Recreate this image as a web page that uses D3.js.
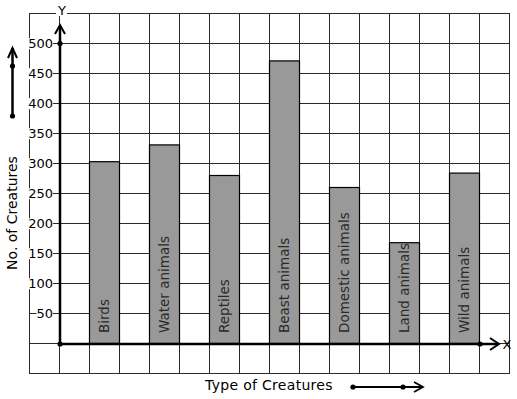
<!DOCTYPE html>
<html>
<head>
<meta charset="utf-8">
<script src="https://cdn.jsdelivr.net/npm/d3@7"></script>
<style>
  body { margin: 0; background: #fff; }
  text { font-family: "DejaVu Sans", sans-serif; }
</style>
</head>
<body>
<div id="chart"></div>
<script>
const categories = ["Birds", "Water animals", "Reptiles", "Beast animals", "Domestic animals", "Land animals", "Wild animals"];
const values = [303, 331, 280, 471, 260, 168, 284];
const yTicks = [50, 100, 150, 200, 250, 300, 350, 400, 450, 500];

function drawChart() {
    const svg = d3.select("#chart")
        .append("svg")
        .attr("width", 517)
        .attr("height", 399);

    // grid: 16 columns x 12 rows of 30px cells
    const gx = d3.scaleLinear().domain([0, 16]).range([29, 509]);
    const y = d3.scaleLinear().domain([-50, 550]).range([373, 13]);
    const x = d3.scaleBand()
        .domain(categories)
        .range([74, 494])
        .paddingInner(0.5)
        .paddingOuter(0.25);

    const grid = svg.append("g")
        .attr("stroke", "#2a2a2a")
        .attr("stroke-width", 1)
        .attr("shape-rendering", "crispEdges");

    grid.selectAll(".v")
        .data(d3.range(0, 17))
        .enter()
        .append("line")
        .attr("x1", d => gx(d) + 0.5)
        .attr("x2", d => gx(d) + 0.5)
        .attr("y1", y(550))
        .attr("y2", y(-50) + 1);

    grid.selectAll(".h")
        .data(d3.range(-50, 551, 50))
        .enter()
        .append("line")
        .attr("x1", gx(0))
        .attr("x2", gx(16) + 1)
        .attr("y1", d => y(d) + 0.5)
        .attr("y2", d => y(d) + 0.5);

    // bars
    svg.selectAll(".bar")
        .data(values)
        .enter()
        .append("rect")
        .attr("x", (d, i) => x(categories[i]) + 0.5)
        .attr("y", d => y(d) + 0.5)
        .attr("width", x.bandwidth())
        .attr("height", d => y(0) - y(d))
        .attr("fill", "#999999")
        .attr("stroke", "#000")
        .attr("stroke-width", 1.2);

    // bar labels
    svg.selectAll(".blabel")
        .data(categories)
        .enter()
        .append("text")
        .attr("transform", d => `translate(${x(d) + x.bandwidth() / 2},333) rotate(-90)`)
        .attr("dy", "0.36em")
        .attr("fill", "#2a2a2a")
        .style("font-size", "13.5px")
        .text(d => d);

    // y tick labels with white backing
    const tickG = svg.selectAll(".tick")
        .data(yTicks)
        .enter()
        .append("g");
    tickG.append("rect").attr("fill", "#fff");
    tickG.append("text")
        .attr("x", 53)
        .attr("y", d => y(d) + 0.5)
        .attr("dy", "0.36em")
        .attr("text-anchor", "end")
        .style("font-size", "13px")
        .text(d => d);
    tickG.each(function() {
        const b = d3.select(this).select("text").node().getBBox();
        d3.select(this).select("rect")
            .attr("x", b.x).attr("y", b.y + 2)
            .attr("width", b.width).attr("height", b.height - 4);
    });

    // axes
    const x0 = gx(1) + 1, y0 = y(0) + 1;
    svg.append("line")
        .attr("x1", x0).attr("x2", 498)
        .attr("y1", y0).attr("y2", y0)
        .attr("stroke", "#000").attr("stroke-width", 2.5);
    svg.append("line")
        .attr("x1", x0).attr("x2", x0)
        .attr("y1", y0).attr("y2", 26)
        .attr("stroke", "#000").attr("stroke-width", 2.5);

    svg.append("path")
        .attr("d", `M490,${y0 - 6}L499,${y0}L490,${y0 + 6}`)
        .attr("fill", "none").attr("stroke", "#000").attr("stroke-width", 2);
    svg.append("path")
        .attr("d", `M${x0 - 5},34L${x0},25L${x0 + 5},34`)
        .attr("fill", "none").attr("stroke", "#000").attr("stroke-width", 2);

    svg.selectAll(".dot")
        .data([[x0, y0], [x0, y(500) + 0.5], [480, y0]])
        .enter()
        .append("circle")
        .attr("cx", d => d[0]).attr("cy", d => d[1])
        .attr("r", 2.6).attr("fill", "#000");

    svg.append("text")
        .attr("x", 507).attr("y", y0).attr("dy", "0.36em")
        .attr("text-anchor", "middle")
        .style("font-size", "13px")
        .text("X");

    svg.append("rect")
        .attr("x", 56).attr("y", 10).attr("width", 11).attr("height", 6)
        .attr("fill", "#fff");
    svg.append("text")
        .attr("x", 62).attr("y", 10).attr("dy", "0.36em")
        .attr("text-anchor", "middle")
        .style("font-size", "13px")
        .text("Y");

    // axis titles
    svg.append("text")
        .attr("transform", "translate(12,213) rotate(-90)")
        .attr("dy", "0.36em")
        .attr("text-anchor", "middle")
        .style("font-size", "14px")
        .text("No. of Creatures");

    svg.append("line")
        .attr("x1", 12.5).attr("x2", 12.5)
        .attr("y1", 116).attr("y2", 48)
        .attr("stroke", "#000").attr("stroke-width", 2.5);
    svg.append("path")
        .attr("d", "M8,58L12.5,48L17,58")
        .attr("fill", "none").attr("stroke", "#000").attr("stroke-width", 2);
    svg.selectAll(".ydot")
        .data([66, 116])
        .enter()
        .append("circle")
        .attr("cx", 12.5).attr("cy", d => d)
        .attr("r", 2.6).attr("fill", "#000");

    svg.append("text")
        .attr("x", 269).attr("y", 385).attr("dy", "0.36em")
        .attr("text-anchor", "middle")
        .style("font-size", "14px")
        .style("letter-spacing", "0.3px")
        .text("Type of Creatures");

    svg.append("line")
        .attr("x1", 353).attr("x2", 422)
        .attr("y1", 387).attr("y2", 387)
        .attr("stroke", "#000").attr("stroke-width", 1.8);
    svg.append("path")
        .attr("d", "M414,382L423,387L414,392")
        .attr("fill", "none").attr("stroke", "#000").attr("stroke-width", 1.8);
    svg.selectAll(".xdot")
        .data([353, 403])
        .enter()
        .append("circle")
        .attr("cx", d => d).attr("cy", 387)
        .attr("r", 2.6).attr("fill", "#000");
}

drawChart();
</script>
</body>
</html>
